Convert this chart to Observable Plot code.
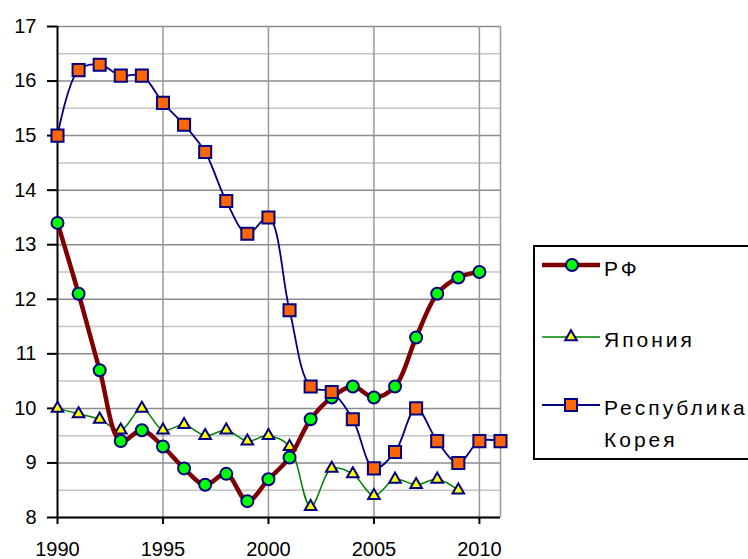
<!DOCTYPE html>
<html><head><meta charset="utf-8">
<script src="https://cdn.jsdelivr.net/npm/d3@7"></script>
<script src="https://cdn.jsdelivr.net/npm/@observablehq/plot@0.6"></script>
<style>
body{margin:0;background:#fff}
#chart svg g[aria-label$="tick label"] text{font-size:20px}
</style>
</head><body><div id="chart"></div>
<script>
const years = [1990,1991,1992,1993,1994,1995,1996,1997,1998,1999,2000,2001,2002,2003,2004,2005,2006,2007,2008,2009,2010,2011];
const rf = [13.4,12.1,10.7,9.4,9.6,9.3,8.9,8.6,8.8,8.3,8.7,9.1,9.8,10.2,10.4,10.2,10.4,11.3,12.1,12.4,12.5];
const japan = [10.0,9.9,9.8,9.6,10.0,9.6,9.7,9.5,9.6,9.4,9.5,9.3,8.2,8.9,8.8,8.4,8.7,8.6,8.7,8.5];
const korea = [15.0,16.2,16.3,16.1,16.1,15.6,15.2,14.7,13.8,13.2,13.5,11.8,10.4,10.3,9.8,8.9,9.2,10.0,9.4,9.0,9.4,9.4];
const seriesNames = ["РФ", "Япония", "Республика Корея"];
const yTicks = [8,9,10,11,12,13,14,15,16,17];
const yHalf = [8.5,9.5,10.5,11.5,12.5,13.5,14.5,15.5,16.5];
const xTicks = [1990,1995,2000,2005,2010];
const xGrid = [1995,2000,2005,2010,2011];

const rfData = rf.map((v,i)=>({x:years[i], y:v}));
const jpData = japan.map((v,i)=>({x:years[i], y:v}));
const krData = korea.map((v,i)=>({x:years[i], y:v}));

const navy = "#000080";
const chart = Plot.plot({
  width: 748, height: 559,
  marginLeft: 57, marginRight: 248, marginTop: 26, marginBottom: 42,
  style: {fontFamily: "'Liberation Sans', Arial, sans-serif", fontSize: "20px", background: "#fff", color: "#000"},
  x: {domain: [1990, 2011], label: null},
  y: {domain: [8, 17], label: null},
  marks: [
    Plot.ruleY(yHalf, {stroke: "#c4c4c4", strokeWidth: 1.5}),
    Plot.ruleY(yTicks, {stroke: "#8c8c8c", strokeWidth: 1.5}),
    Plot.ruleX(xGrid, {stroke: "#999", strokeWidth: 1.5}),
    Plot.ruleX([1990], {stroke: "#000", strokeWidth: 2}),
    Plot.ruleY([8], {stroke: "#000", strokeWidth: 2}),
    Plot.axisY({ticks: yTicks, tickSize: 10, tickPadding: 11, fontSize: 20, strokeWidth: 2, label: null}),
    Plot.axisX({ticks: xTicks, tickFormat: d => String(d), tickSize: 7, tickPadding: 17, fontSize: 20, strokeWidth: 2, label: null}),
    Plot.line(jpData, {x: "x", y: "y", stroke: "#008000", strokeWidth: 1.5, curve: "catmull-rom"}),
    Plot.dot(jpData, {x: "x", y: "y", symbol: "triangle", r: 4.3, fill: "#ffff00", stroke: navy, strokeWidth: 2}),
    Plot.line(rfData, {x: "x", y: "y", stroke: "#800000", strokeWidth: 4.5, curve: "catmull-rom"}),
    Plot.dot(rfData, {x: "x", y: "y", symbol: "circle", r: 6, fill: "#00ff00", stroke: navy, strokeWidth: 2}),
    Plot.line(krData, {x: "x", y: "y", stroke: navy, strokeWidth: 1.8, curve: "catmull-rom"}),
    Plot.dot(krData, {x: "x", y: "y", symbol: "square", r: 6.8, fill: "#ff6600", stroke: navy, strokeWidth: 2})
  ]
});
document.getElementById("chart").appendChild(chart);

// Legend
const svg = d3.select(chart);
const lg = svg.append("g").attr("font-family", "'Liberation Sans', Arial, sans-serif").attr("font-size", 21).attr("letter-spacing", "3px").attr("text-anchor", "start");
lg.append("rect").attr("x", 534).attr("y", 246).attr("width", 240).attr("height", 213).attr("fill", "#fff").attr("stroke", "#000").attr("stroke-width", 2);
// RF
lg.append("line").attr("x1", 542).attr("x2", 600).attr("y1", 265).attr("y2", 265).attr("stroke", "#800000").attr("stroke-width", 4.5);
lg.append("circle").attr("cx", 572).attr("cy", 265).attr("r", 6).attr("fill", "#00ff00").attr("stroke", navy).attr("stroke-width", 2);
lg.append("text").attr("x", 604).attr("y", 276).text(seriesNames[0]);
// Japan
lg.append("line").attr("x1", 542).attr("x2", 600).attr("y1", 337).attr("y2", 337).attr("stroke", "#008000").attr("stroke-width", 1.5);
lg.append("path").attr("d", d3.symbol(d3.symbolTriangle, Math.PI*4.3*4.3)()).attr("transform", "translate(571,337)").attr("fill", "#ffff00").attr("stroke", navy).attr("stroke-width", 2);
lg.append("text").attr("x", 604).attr("y", 347).text(seriesNames[1]);
// Korea
lg.append("line").attr("x1", 542).attr("x2", 600).attr("y1", 405).attr("y2", 405).attr("stroke", navy).attr("stroke-width", 1.8);
lg.append("rect").attr("x", 565).attr("y", 399).attr("width", 12).attr("height", 12).attr("fill", "#ff6600").attr("stroke", navy).attr("stroke-width", 2);
const parts = seriesNames[2].split(" ");
lg.append("text").attr("x", 604).attr("y", 415).text(parts[0]);
lg.append("text").attr("x", 604).attr("y", 447).text(parts[1]);
</script>
</body></html>
